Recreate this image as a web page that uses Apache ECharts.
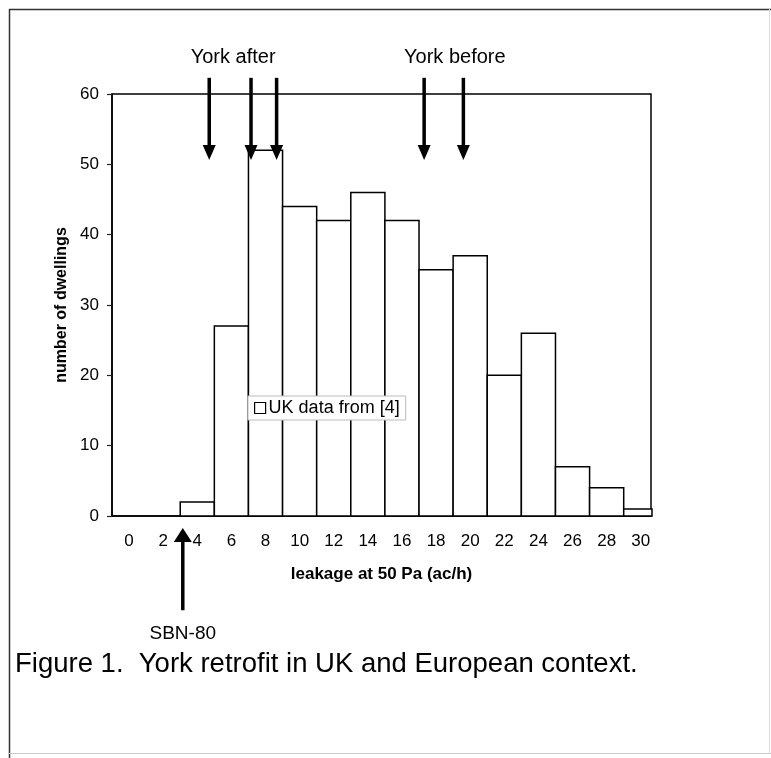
<!DOCTYPE html>
<html>
<head>
<meta charset="utf-8">
<script src="https://cdn.jsdelivr.net/npm/echarts@6/dist/echarts.min.js"></script>
<style>
html,body{margin:0;padding:0;background:#fff;}
#chart{width:771px;height:758px;}
</style>
</head>
<body>
<div id="chart"></div>
<script>
// ---- data ----
const binCenters = [4, 6, 8, 10, 12, 14, 16, 18, 20, 22, 24, 26, 28, 30];
const dwellings  = [2, 27, 52, 44, 42, 46, 42, 35, 37, 20, 26, 7, 4, 1];
const binWidth = 2;
const xTickLabels = [0, 2, 4, 6, 8, 10, 12, 14, 16, 18, 20, 22, 24, 26, 28, 30];
const yorkAfter = [4.7, 7.15, 8.65];
const yorkBefore = [17.3, 19.6];
const sbn80 = [3.15];

const FONT = '"Liberation Sans", Arial, sans-serif';
const chart = echarts.init(document.getElementById('chart'), null, {renderer: 'canvas'});

const option = {
  backgroundColor: '#fff',
  animation: false,
  textStyle: {fontFamily: FONT},
  grid: {left: 112, top: 94, right: 120, bottom: 242, show: true, borderColor: '#000', borderWidth: 1.5, backgroundColor: 'transparent'},
  xAxis: {
    type: 'value', min: -1, max: 30.6,
    name: 'leakage at 50 Pa (ac/h)', nameLocation: 'middle', nameGap: 50,
    nameTextStyle: {fontFamily: FONT, fontWeight: 'bold', fontSize: 17, color: '#000'},
    axisLine: {show: true, onZero: false, lineStyle: {color: '#000', width: 1.5}},
    axisTick: {show: false},
    splitLine: {show: false},
    axisLabel: {customValues: xTickLabels, fontFamily: FONT, fontSize: 17, color: '#000', margin: 17, showMinLabel: true, showMaxLabel: true}
  },
  yAxis: {
    type: 'value', min: 0, max: 60, interval: 10,
    name: 'number of dwellings', nameLocation: 'middle', nameGap: 40, nameRotate: 90,
    nameTextStyle: {fontFamily: FONT, fontWeight: 'bold', fontSize: 16, color: '#000'},
    axisLine: {show: true, onZero: false, lineStyle: {color: '#000', width: 1.5}},
    axisTick: {show: true, length: 5, lineStyle: {color: '#222', width: 1.2}},
    splitLine: {show: false},
    axisLabel: {fontFamily: FONT, fontSize: 17, color: '#000', margin: 13}
  },
  legend: {
    left: 248, top: 396, orient: 'horizontal',
    backgroundColor: '#fff', borderColor: '#bbb', borderWidth: 1,
    padding: [3, 6, 3, 6], itemWidth: 11, itemHeight: 11, itemGap: 6,
    textStyle: {fontFamily: FONT, fontSize: 18, color: '#000', padding: [0, 0, 0, -2]},
    data: [{name: 'UK data from [4]', icon: 'rect', itemStyle: {color: '#fff', borderColor: '#000', borderWidth: 1.2}}]
  },
  series: [{
    type: 'custom',
    name: 'UK data from [4]',
    data: binCenters.map((c, i) => [c, dwellings[i]]),
    itemStyle: {color: '#fff', borderColor: '#000'},
    renderItem: function (params, api) {
      const x = api.value(0), y = api.value(1);
      const p0 = api.coord([x - binWidth / 2, y]);
      const p1 = api.coord([x + binWidth / 2, 0]);
      const cs = params.coordSys;
      const shape = echarts.graphic.clipRectByRect(
        {x: p0[0], y: p0[1], width: p1[0] - p0[0], height: p1[1] - p0[1]},
        {x: cs.x, y: cs.y, width: cs.width + 1, height: cs.height});
      return shape && {type: 'rect', shape: shape, style: {fill: '#fff', stroke: '#000', lineWidth: 1.5}};
    }
  }]
};
chart.setOption(option);

function px(x, y) { return chart.convertToPixel({gridIndex: 0}, [x, y]); }

function downArrow(x) {
  const top = px(x, 62.3), tip = px(x, 50.6);
  const hw = 6.5, hh = 15;
  return [
    {type: 'line', shape: {x1: top[0], y1: top[1], x2: tip[0], y2: tip[1] - hh + 2}, style: {stroke: '#000', lineWidth: 3.5}, z: 100},
    {type: 'polygon', shape: {points: [[tip[0] - hw, tip[1] - hh], [tip[0] + hw, tip[1] - hh], [tip[0], tip[1]]]}, style: {fill: '#000'}, z: 100}
  ];
}
function upArrow(x) {
  const bot = px(x, -13.4), tip = px(x, -1.7);
  const hw = 9, hh = 14;
  return [
    {type: 'line', shape: {x1: bot[0], y1: bot[1], x2: tip[0], y2: tip[1] + hh - 2}, style: {stroke: '#000', lineWidth: 3.5}, z: 100},
    {type: 'polygon', shape: {points: [[tip[0] - hw, tip[1] + hh], [tip[0] + hw, tip[1] + hh], [tip[0], tip[1]]]}, style: {fill: '#000'}, z: 100}
  ];
}

const els = [];
yorkAfter.concat(yorkBefore).forEach(v => els.push(...downArrow(v)));
sbn80.forEach(v => els.push(...upArrow(v)));

const after0 = px(6.1, 0), before0 = px(19.1, 0), sbnP = px(sbn80[0], -16.8);
els.push({type: 'text', x: after0[0], y: 57, style: {text: 'York after', font: '20px ' + FONT, fill: '#000', align: 'center', verticalAlign: 'middle'}, z: 100});
els.push({type: 'text', x: before0[0], y: 57, style: {text: 'York before', font: '20px ' + FONT, fill: '#000', align: 'center', verticalAlign: 'middle'}, z: 100});
els.push({type: 'text', x: sbnP[0], y: sbnP[1], style: {text: 'SBN-80', font: '19px ' + FONT, fill: '#000', align: 'center', verticalAlign: 'middle'}, z: 100});
els.push({type: 'text', x: 15, y: 664, style: {text: 'Figure 1.  York retrofit in UK and European context.', font: '27.5px ' + FONT, fill: '#000', align: 'left', verticalAlign: 'middle'}, z: 100});
// page frame
els.push({type: 'line', shape: {x1: 9, y1: 9.5, x2: 771, y2: 9.5}, style: {stroke: '#333', lineWidth: 1.5}});
els.push({type: 'line', shape: {x1: 9.5, y1: 9, x2: 9.5, y2: 758}, style: {stroke: '#333', lineWidth: 1.5}});
els.push({type: 'line', shape: {x1: 769.5, y1: 9, x2: 769.5, y2: 753}, style: {stroke: '#ddd', lineWidth: 1}});
els.push({type: 'line', shape: {x1: 9, y1: 753.5, x2: 771, y2: 753.5}, style: {stroke: '#ccc', lineWidth: 1}});

chart.setOption({graphic: {elements: els}});
</script>
</body>
</html>
